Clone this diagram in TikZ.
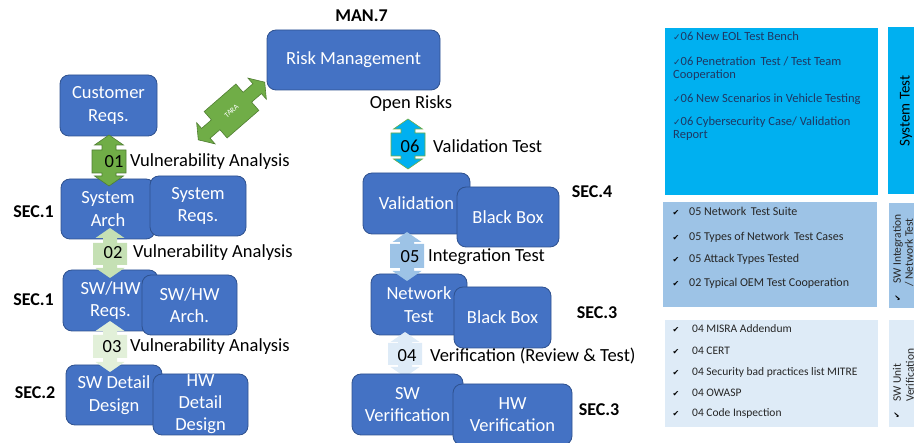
\documentclass[tikz,border=0pt]{standalone}
\usepackage{fontspec}
\setmainfont{Carlito}
\newfontfamily\symfont{DejaVu Sans}
\definecolor{boxblue}{HTML}{4472C4}
\definecolor{boxborder}{HTML}{2F528F}
\definecolor{grn}{HTML}{70AD47}
\definecolor{grnd}{HTML}{507E32}
\definecolor{grntwo}{HTML}{C5E0B4}
\definecolor{grnthree}{HTML}{E2F0D9}
\definecolor{cyanb}{HTML}{00B0F0}
\definecolor{blutwo}{HTML}{9DC3E6}
\definecolor{bluthree}{HTML}{DEEBF7}
\definecolor{navy}{HTML}{1F3864}
\definecolor{txt}{HTML}{262626}
% vertical block arrow with a box: cx, top tip, box top, box bottom, bottom tip, style
\newcommand\blockarrow[6]{%
  \draw[#6] (#1,#2) -- ({#1+14.5},{#2+10}) -- ({#1+7},{#2+10}) -- ({#1+7},#3) -- ({#1+17},#3)
   -- ({#1+17},#4) -- ({#1+7},#4) -- ({#1+7},{#5-10}) -- ({#1+14.5},{#5-10}) -- (#1,#5)
   -- ({#1-14.5},{#5-10}) -- ({#1-7},{#5-10}) -- ({#1-7},#4) -- ({#1-17},#4) -- ({#1-17},#3)
   -- ({#1-7},#3) -- ({#1-7},{#2+10}) -- ({#1-14.5},{#2+10}) -- cycle;}
% point of the slanted TARA arrow: a along the axis, b across it
\newcommand\tp[2]{({231.5+(#1)*0.7547+(#2)*0.6561},{111-(#1)*0.6561+(#2)*0.7547})}
\newcommand\thinchk{{\symfont\fontsize{9}{9}\selectfont ✓}}
\begin{document}
\begin{tikzpicture}[x=1pt,y=-1pt,
  bx/.style={draw=boxborder, fill=boxblue, rounded corners=9pt, text=white, align=center,
    inner sep=0pt, line width=0.8pt, font=\fontsize{18.5}{22.5}\selectfont},
  sec/.style={font=\fontsize{18}{20}\selectfont\bfseries, inner sep=0pt},
  lbl/.style={font=\fontsize{18.5}{22}\selectfont, inner sep=0pt, anchor=west},
  num/.style={font=\fontsize{18.5}{22}\selectfont, inner sep=0pt},
  pone/.style={font=\fontsize{12.5}{13}\selectfont, text=navy, inner sep=0pt, anchor=base west},
  ptwo/.style={font=\fontsize{12}{13}\selectfont, text=txt, inner sep=0pt, anchor=base west},
  pthree/.style={font=\fontsize{11.5}{13}\selectfont, text=txt, inner sep=0pt, anchor=base west},
  chk/.style={font=\symfont\fontsize{8}{9}\selectfont, inner sep=0pt},
  strip/.style={font=\fontsize{11.5}{13}\selectfont, text=txt, inner sep=0pt, rotate=90, anchor=west},
]
\useasboundingbox (0,0) rectangle (914,443);

% ---------- left column ----------
\node[bx, minimum width=173pt, minimum height=60pt] (risk) at (353.5,60) {Risk Management};
\node[sec] (man) at (361.5,16) {MAN.7};
\node[bx, minimum width=97pt, minimum height=61pt] (cust) at (108.5,105.5) {Customer\\Reqs.};
\node[bx, minimum width=94pt, minimum height=60pt] (sysarch) at (108,209) {System\\Arch};
\node[bx, minimum width=96pt, minimum height=60pt] (sysreq) at (198,206) {System\\Reqs.};
\node[bx, minimum width=95pt, minimum height=61pt] (swhwreq) at (110.5,300.5) {SW/HW\\Reqs.};
\node[bx, minimum width=95pt, minimum height=60pt] (swhwarch) at (189.5,305) {SW/HW\\Arch.};
\node[bx, minimum width=96pt, minimum height=60pt] (swdet) at (114,395) {SW Detail\\Design};
\node[bx, minimum width=95pt, minimum height=61pt, font=\fontsize{18.5}{22}\selectfont] (hwdet) at (200.5,404.5) {HW\\Detail\\Design};
\node[sec] (sec1a) at (33.5,212) {SEC.1};
\node[sec] (sec1b) at (33.5,300) {SEC.1};
\node[sec] (sec2) at (35,393) {SEC.2};

% TARA arrow
\draw[fill=grn, draw=grnd, line width=0.6pt] \tp{44}{0} -- \tp{34}{14} -- \tp{34}{6.5} -- \tp{21}{6.5}
  -- \tp{21}{17.5} -- \tp{-21}{17.5} -- \tp{-21}{6.5} -- \tp{-34}{6.5} -- \tp{-34}{14} -- \tp{-44}{0}
  -- \tp{-34}{-14} -- \tp{-34}{-6.5} -- \tp{-21}{-6.5} -- \tp{-21}{-17.5} -- \tp{21}{-17.5}
  -- \tp{21}{-6.5} -- \tp{34}{-6.5} -- \tp{34}{-14} -- cycle;
\node[text=white, font=\fontsize{7.5}{8}\selectfont, rotate=41, inner sep=0pt] (tara) at (231.5,111) {TARA};

\blockarrow{109}{135}{150}{173}{186}{fill=grn, draw=grnd, line width=0.6pt}
\blockarrow{110}{228}{243}{265}{278}{fill=grntwo, draw=none}
\blockarrow{110}{321}{335}{358}{372}{fill=grnthree, draw=none}
\node[num] (n01) at (114,162) {01};
\node[num] (n02) at (113,253) {02};
\node[num] (n03) at (112,347) {03};
\node[lbl] (l01) at (130,162) {Vulnerability Analysis};
\node[lbl] (l02) at (133,253) {Vulnerability Analysis};
\node[lbl] (l03) at (130,347) {Vulnerability Analysis};

% ---------- right column ----------
\node[lbl, anchor=center] (open) at (411,104) {Open Risks};
\node[bx, minimum width=107pt, minimum height=61pt] (valid) at (416.5,203.5) {Validation};
\node[bx, minimum width=102pt, minimum height=60pt] (bb1) at (508,217) {Black Box};
\node[bx, minimum width=96pt, minimum height=61pt] (net) at (419,304.5) {Network\\Test};
\node[bx, minimum width=97pt, minimum height=61pt] (bb2) at (502.5,317.5) {Black Box};
\node[sec] (sec4) at (592,192) {SEC.4};
\node[sec] (sec3a) at (597,313) {SEC.3};

\blockarrow{408}{119}{133}{156}{169}{fill=cyanb, draw=grn, line width=0.6pt}
\blockarrow{407}{232}{244}{268}{281}{fill=blutwo, draw=none}
\blockarrow{405}{332}{343}{365}{377}{fill=bluthree, draw=none}

\node[bx, minimum width=111pt, minimum height=61pt] (swver) at (407.5,404.5) {SW\\Verification};
\node[bx, minimum width=119pt, minimum height=61pt] (hwver) at (512.5,414.5) {HW\\Verification};
\node[sec] (sec3b) at (599,410) {SEC.3};

\node[num] (n06) at (410,146) {06};
\node[num] (n05) at (410,257) {05};
\node[num] (n04) at (407,356) {04};
\node[lbl] (l06) at (433,146) {Validation Test};
\node[lbl] (l05) at (428,257) {Integration Test};
\node[lbl] (l04) at (430,356) {Verification (Review \& Test)};

% ---------- right panels ----------
\fill[cyanb] (665,28) rectangle (878,195);
\fill[cyanb] (888,27) rectangle (920,194);
\fill[blutwo] (663,202) rectangle (877,307);
\fill[blutwo] (889,203) rectangle (920,308);
\fill[bluthree] (665,320) rectangle (878,427);
\fill[bluthree] (889,320) rectangle (920,427);

\node[pone] (a1) at (673,41) {\thinchk 06 New EOL Test Bench};
\node[pone] (a2) at (673,66) {\thinchk 06 Penetration\, Test / Test Team};
\node[pone] (a2b) at (673,79) {Cooperation};
\node[pone] (a3) at (673,103) {\thinchk 06 New Scenarios in Vehicle Testing};
\node[pone] (a4) at (673,126) {\thinchk 06 Cybersecurity Case/ Validation};
\node[pone] (a4b) at (673,139) {Report};

\foreach \yy/\tt [count=\i] in {216/05 Network\, Test Suite, 241/05 Types of Network\, Test Cases, 263/05 Attack Types Tested, 287/02 Typical OEM Test Cooperation}{
  \node[chk, anchor=base] (bc\i) at (676,\yy) {✔};
  \node[ptwo] (b\i) at (689,\yy) {\tt};
}
\foreach \yy/\tt [count=\i] in {333/04 MISRA Addendum, 355/04 CERT, 376/04 Security bad practices list MITRE, 397/04 OWASP, 417/04 Code Inspection}{
  \node[chk, anchor=base] (cc\i) at (676,\yy) {✔};
  \node[pthree] (c\i) at (692,\yy) {\tt};
}

\node[font=\fontsize{15}{16}\selectfont, rotate=90, inner sep=0pt] (st) at (906,111) {System Test};
\node[chk, rotate=90] (s2c) at (898,298) {✔};
\node[strip] (s2a) at (898,284) {SW Integration};
\node[strip] (s2b) at (909,287) {/ Network Test};
\node[chk, rotate=90] (s3c) at (897,415) {✔};
\node[strip] (s3a) at (897,402) {SW Unit};
\node[strip] (s3b) at (910,402) {Verification};
\end{tikzpicture}
\end{document}
